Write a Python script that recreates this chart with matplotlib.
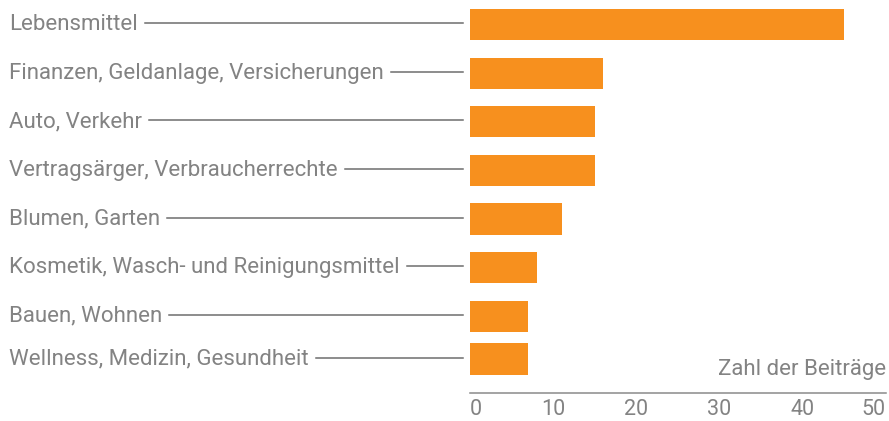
import matplotlib
matplotlib.use('Agg')
import matplotlib.pyplot as plt
from matplotlib.transforms import blended_transform_factory

# data
categories = ['Lebensmittel',
              'Finanzen, Geldanlage, Versicherungen',
              'Auto, Verkehr',
              'Vertragsärger, Verbraucherrechte',
              'Blumen, Garten',
              'Kosmetik, Wasch- und Reinigungsmittel',
              'Bauen, Wohnen',
              'Wellness, Medizin, Gesundheit']
values = [45, 16, 15, 15, 11, 8, 7, 7]
xticks = [0, 10, 20, 30, 40, 50]
xlabel = 'Zahl der Beiträge'

# layout (row positions, last row sits a bit closer in the original)
ypos = [0, 1, 2, 3, 4, 5, 6, 6.88]

orange = '#f7901e'
grey_text = '#838383'
grey_line = '#6e6e6e'
fs = 16

plt.rcParams['font.family'] = ['Roboto', 'DejaVu Sans']

fig = plt.figure(figsize=(8.89, 4.21), dpi=100)
W, H = 889, 421
ax = fig.add_axes([470 / W, 1 - 393 / H, (886 - 470) / W, 393 / H])

ax.barh(ypos, values, height=0.64, color=orange)
ax.set_xlim(0, 50)
ax.set_ylim(7.58, -0.504)

for s in ['top', 'right', 'left']:
    ax.spines[s].set_visible(False)
ax.spines['bottom'].set_color('#8a8a8a')
ax.spines['bottom'].set_linewidth(1.1)
ax.set_yticks([])
ax.set_xticks(xticks)
ax.set_xticklabels([str(t) for t in xticks], fontsize=fs - 0.5, color=grey_text)
ax.tick_params(axis='x', length=0, pad=4)
labs = ax.get_xticklabels()
labs[0].set_horizontalalignment('left')
labs[-1].set_horizontalalignment('right')

ax.text(1.0, 0.046, xlabel, transform=ax.transAxes, ha='right', va='baseline',
        fontsize=fs, color=grey_text)

# category labels with leader lines
trans = blended_transform_factory(fig.transFigure, ax.transData)
fig.canvas.draw()
renderer = fig.canvas.get_renderer()
for cat, y in zip(categories, ypos):
    t = ax.text(9 / W, y, cat, transform=trans, ha='left', va='center',
                fontsize=fs, color=grey_text)
    bb = t.get_window_extent(renderer)
    ax.plot([(bb.x1 + 7) / W, 463 / W], [y - 0.03, y - 0.03], color=grey_line,
            lw=1.1, transform=trans, clip_on=False)

fig.savefig('out.png', dpi=100)
